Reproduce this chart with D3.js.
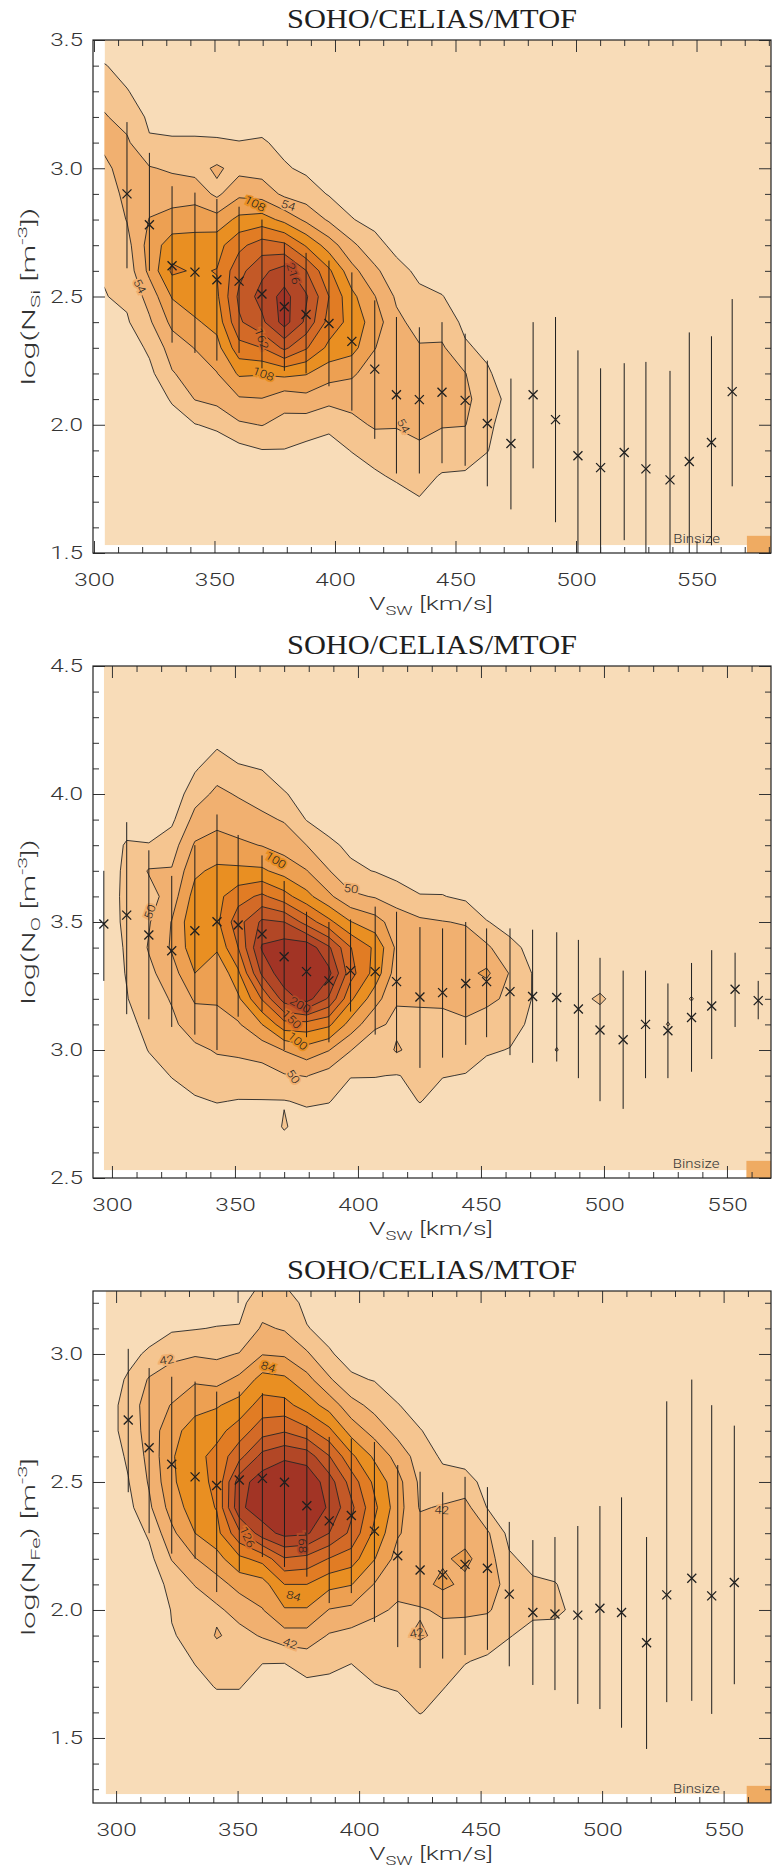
<!DOCTYPE html>
<html><head><meta charset="utf-8">
<script src="https://cdn.jsdelivr.net/npm/d3@7"></script>
<style>
html,body{margin:0;padding:0;background:#fff;}
svg{display:block;}
</style></head><body>
<svg id="chart" width="776" height="1871"></svg>
<script>
// ---------- Si panel: 2-D histogram (velocity bins x log density bins) ----------
const siCols = [304.4, 313.7, 323, 332.4, 341.9, 351, 360.2, 369.7, 379, 388, 397.5, 407, 416.5, 425.5, 435, 444.4, 454, 463.2, 473, 482.2, 491.5, 500.8, 510.2, 520, 529, 539, 547, 556.2, 564.8, 574, 583.4];
const siRows = [3.5, 3.4, 3.3, 3.2, 3.1, 3.0, 2.9, 2.8, 2.7, 2.6, 2.5, 2.4, 2.3, 2.2, 2.1, 2.0, 1.9, 1.8, 1.7, 1.6, 1.53];
// one array per velocity bin, counts from high to low density
const siGrid = [
  [15, 28, 45, 56, 58, 50, 42, 36, 32, 29, 26, 18, 8, 4, 2, 1, 0, 0, 0, 0, 0],
  [5, 20, 28, 45, 58, 62, 60, 55, 45, 38, 32, 24, 12, 6, 3, 2, 1, 0, 0, 0, 0],
  [2, 10, 18, 22, 30, 56, 70, 82, 92, 88, 64, 50, 32, 20, 10, 4, 2, 0, 0, 0, 0],
  [0, 4, 10, 18, 30, 50, 70, 90, 122, 140, 110, 88, 66, 52, 30, 15, 6, 2, 0, 0, 0],
  [0, 2, 8, 18, 30, 45, 70, 96, 120, 132, 124, 104, 82, 66, 55, 26, 10, 3, 0, 0, 0],
  [0, 1, 5, 15, 30, 58, 48, 92, 125, 136, 130, 118, 98, 80, 62, 32, 12, 3, 0, 0, 0],
  [0, 0, 4, 12, 28, 45, 75, 115, 155, 180, 195, 185, 152, 112, 78, 50, 18, 5, 0, 0, 0],
  [0, 0, 3, 15, 30, 42, 70, 120, 175, 210, 226, 210, 162, 110, 80, 55, 26, 10, 0, 0, 0],
  [0, 0, 2, 8, 20, 30, 48, 100, 168, 228, 252, 254, 195, 115, 65, 45, 26, 12, 0, 0, 0],
  [0, 0, 0, 5, 12, 22, 40, 75, 132, 190, 220, 210, 165, 110, 72, 40, 20, 8, 0, 0, 0],
  [0, 0, 0, 3, 8, 15, 25, 50, 95, 140, 162, 152, 128, 92, 62, 32, 18, 6, 0, 0, 0],
  [0, 0, 0, 0, 4, 8, 18, 28, 60, 90, 115, 125, 118, 85, 65, 45, 28, 15, 5, 0, 0],
  [0, 0, 0, 0, 0, 4, 10, 20, 35, 60, 82, 95, 82, 68, 60, 58, 35, 24, 10, 2, 0],
  [0, 0, 0, 0, 0, 2, 6, 12, 20, 35, 50, 60, 62, 60, 60, 56, 42, 30, 18, 5, 0],
  [0, 0, 0, 0, 0, 0, 3, 8, 14, 22, 32, 45, 56, 62, 65, 60, 50, 35, 25, 12, 5],
  [0, 0, 0, 0, 0, 0, 0, 4, 8, 15, 28, 40, 58, 62, 62, 56, 40, 25, 15, 5, 0],
  [0, 0, 0, 0, 0, 0, 0, 0, 4, 8, 15, 22, 30, 55, 60, 55, 38, 24, 10, 3, 0],
  [0, 0, 0, 0, 0, 0, 0, 0, 0, 3, 8, 14, 22, 30, 40, 32, 28, 15, 5, 0, 0],
  [0, 0, 0, 0, 0, 0, 0, 0, 0, 0, 3, 6, 10, 14, 18, 15, 10, 5, 2, 0, 0],
  [0, 0, 0, 0, 0, 0, 0, 0, 0, 0, 2, 4, 6, 8, 10, 8, 6, 4, 2, 0, 0],
  [0, 0, 0, 0, 0, 0, 0, 0, 0, 0, 1, 2, 4, 6, 8, 7, 6, 4, 2, 1, 0],
  [0, 0, 0, 0, 0, 0, 0, 0, 0, 0, 0, 2, 3, 5, 6, 6, 5, 4, 2, 1, 0],
  [0, 0, 0, 0, 0, 0, 0, 0, 0, 0, 0, 1, 3, 4, 5, 5, 5, 3, 2, 1, 0],
  [0, 0, 0, 0, 0, 0, 0, 0, 0, 0, 0, 1, 2, 3, 4, 5, 4, 3, 2, 1, 0],
  [0, 0, 0, 0, 0, 0, 0, 0, 0, 0, 0, 1, 2, 3, 4, 4, 4, 3, 2, 1, 0],
  [0, 0, 0, 0, 0, 0, 0, 0, 0, 0, 0, 1, 2, 2, 3, 4, 3, 3, 2, 1, 0],
  [0, 0, 0, 0, 0, 0, 0, 0, 0, 0, 0, 1, 1, 2, 3, 3, 3, 2, 2, 1, 0],
  [0, 0, 0, 0, 0, 0, 0, 0, 0, 0, 0, 1, 1, 2, 2, 3, 3, 2, 1, 1, 0],
  [0, 0, 0, 0, 0, 0, 0, 0, 0, 0, 0, 0, 1, 2, 2, 3, 2, 2, 1, 0, 0],
  [0, 0, 0, 0, 0, 0, 0, 0, 0, 0, 0, 0, 1, 1, 2, 2, 2, 1, 1, 0, 0],
  [0, 0, 0, 0, 0, 0, 0, 0, 0, 0, 0, 0, 1, 1, 1, 2, 1, 1, 1, 0, 0]
];
const siLevels = [27, 54, 81, 108, 135, 162, 189, 216, 243];
// binned means with spread
const siBarV = [313.7, 323, 332.4, 341.9, 351, 360.2, 369.7, 379, 388, 397.5, 407, 416.5, 425.5, 435, 444.4, 454, 463.2, 473, 482.2, 491.5, 500.8, 510.2, 520, 529, 539, 547, 556.2, 564.8];
const siMean = [2.90, 2.78, 2.62, 2.595, 2.565, 2.56, 2.51, 2.46, 2.43, 2.395, 2.325, 2.217, 2.117, 2.098, 2.127, 2.095, 2.005, 1.927, 2.117, 2.02, 1.879, 1.833, 1.892, 1.828, 1.785, 1.857, 1.931, 2.129];
const siHigh = [3.18, 3.06, 2.93, 2.905, 2.88, 2.85, 2.80, 2.71, 2.67, 2.64, 2.594, 2.485, 2.42, 2.38, 2.40, 2.355, 2.25, 2.18, 2.40, 2.42, 2.29, 2.22, 2.24, 2.245, 2.21, 2.36, 2.345, 2.49];
const siLow = [2.61, 2.60, 2.32, 2.28, 2.25, 2.28, 2.22, 2.21, 2.20, 2.15, 2.055, 1.945, 1.81, 1.81, 1.85, 1.84, 1.76, 1.67, 1.83, 1.62, 1.40, 1.35, 1.55, 1.40, 1.42, 1.40, 1.53, 1.76];
// contour labels: level, velocity, log density, angle
const siLabels = [[54, 380.6, 2.855, 18], [108, 366.8, 2.862, 28], [216, 382.7, 2.589, 72], [162, 369.6, 2.335, 70], [108, 370.3, 2.198, 20], [54, 319, 2.54, 62], [54, 428.4, 1.996, 60]];

// ---------- O panel ----------
const oCols = [296.7, 306, 315, 324.3, 333.7, 342.7, 351.3, 361, 370, 379.1, 388.2, 397, 407, 415.7, 425.2, 434.4, 443.8, 452.3, 461.8, 471, 480.8, 489.6, 498.4, 507.8, 516.9, 526, 535.6, 543.8, 553.3, 562.7, 571.9];
const oRows = [4.5, 4.4, 4.3, 4.2, 4.1, 4.0, 3.9, 3.8, 3.7, 3.6, 3.5, 3.4, 3.3, 3.2, 3.1, 3.0, 2.9, 2.8, 2.7, 2.6, 2.53];
const oGrid = [
  [0, 0, 0, 0, 0, 0, 3, 8, 12, 14, 15, 15, 14, 12, 8, 5, 3, 1, 0, 0, 0],
  [0, 0, 0, 0, 0, 2, 12, 28, 30, 30, 29, 27, 26, 24, 18, 10, 5, 2, 0, 0, 0],
  [0, 0, 0, 0, 0, 5, 15, 26, 52, 40, 48, 52, 44, 38, 32, 26, 15, 8, 3, 0, 0],
  [0, 0, 0, 0, 2, 8, 20, 38, 52, 62, 76, 78, 64, 52, 45, 35, 26, 15, 5, 0, 0],
  [0, 0, 0, 5, 22, 40, 58, 78, 95, 110, 120, 115, 100, 78, 62, 45, 35, 22, 10, 3, 0],
  [0, 0, 0, 20, 40, 55, 70, 82, 106, 118, 120, 105, 76, 80, 60, 52, 40, 26, 12, 3, 0],
  [0, 0, 0, 12, 28, 48, 62, 80, 105, 140, 165, 150, 120, 95, 72, 55, 38, 24, 10, 3, 0],
  [0, 0, 0, 5, 24, 40, 55, 74, 104, 155, 205, 228, 205, 152, 100, 60, 40, 24, 10, 3, 0],
  [0, 0, 0, 0, 12, 27, 48, 65, 90, 135, 200, 238, 242, 212, 140, 76, 48, 24, 27, 12, 0],
  [0, 0, 0, 0, 0, 15, 24, 50, 76, 108, 165, 242, 255, 236, 140, 90, 51, 28, 15, 5, 0],
  [0, 0, 0, 0, 0, 5, 15, 30, 51, 80, 132, 204, 232, 196, 130, 76, 40, 26, 12, 3, 0],
  [0, 0, 0, 0, 0, 2, 8, 20, 30, 55, 101, 151, 160, 130, 90, 51, 26, 15, 6, 0, 0],
  [0, 0, 0, 0, 0, 0, 4, 12, 24, 48, 85, 120, 115, 85, 55, 30, 26, 12, 4, 0, 0],
  [0, 0, 0, 0, 0, 0, 2, 8, 15, 40, 62, 70, 62, 52, 45, 53, 24, 15, 4, 0, 0],
  [0, 0, 0, 0, 0, 0, 0, 5, 15, 26, 55, 62, 55, 52, 46, 40, 30, 26, 10, 2, 0],
  [0, 0, 0, 0, 0, 0, 0, 4, 12, 26, 51, 62, 66, 56, 40, 32, 26, 15, 5, 0, 0],
  [0, 0, 0, 0, 0, 0, 0, 2, 8, 20, 48, 62, 68, 60, 46, 35, 24, 10, 3, 0, 0],
  [0, 0, 0, 0, 0, 0, 0, 0, 4, 12, 26, 55, 80, 56, 38, 28, 15, 6, 0, 0, 0],
  [0, 0, 0, 0, 0, 0, 0, 0, 2, 6, 18, 30, 48, 45, 34, 24, 12, 4, 0, 0, 0],
  [0, 0, 0, 0, 0, 0, 0, 0, 0, 3, 10, 20, 24, 24, 20, 12, 6, 2, 0, 0, 0],
  [0, 0, 0, 0, 0, 0, 0, 0, 0, 2, 6, 12, 16, 18, 16, 26, 10, 4, 0, 0, 0],
  [0, 0, 0, 0, 0, 0, 0, 0, 0, 2, 5, 10, 14, 20, 16, 12, 8, 4, 0, 0, 0],
  [0, 0, 0, 0, 0, 0, 0, 0, 0, 1, 4, 8, 14, 28, 15, 10, 6, 3, 0, 0, 0],
  [0, 0, 0, 0, 0, 0, 0, 0, 0, 1, 3, 6, 12, 16, 14, 10, 6, 3, 0, 0, 0],
  [0, 0, 0, 0, 0, 0, 0, 0, 0, 0, 3, 6, 10, 14, 12, 9, 5, 2, 0, 0, 0],
  [0, 0, 0, 0, 0, 0, 0, 0, 0, 0, 3, 6, 10, 16, 26, 9, 5, 2, 0, 0, 0],
  [0, 0, 0, 0, 0, 0, 0, 0, 0, 0, 3, 8, 14, 26, 14, 9, 5, 2, 0, 0, 0],
  [0, 0, 0, 0, 0, 0, 0, 0, 0, 0, 4, 8, 12, 15, 12, 8, 4, 2, 0, 0, 0],
  [0, 0, 0, 0, 0, 0, 0, 0, 0, 0, 4, 9, 14, 14, 10, 6, 3, 1, 0, 0, 0],
  [0, 0, 0, 0, 0, 0, 0, 0, 0, 0, 3, 7, 12, 12, 8, 5, 3, 1, 0, 0, 0],
  [0, 0, 0, 0, 0, 0, 0, 0, 0, 0, 2, 5, 8, 8, 6, 4, 2, 1, 0, 0, 0]
];
const oLevels = [25, 50, 75, 100, 125, 150, 175, 200, 225];
const oBarV = [296.7, 306, 315, 324.3, 333.7, 342.7, 351.3, 361, 370, 379.1, 388.2, 397, 407, 415.7, 425.2, 434.4, 443.8, 452.3, 461.8, 471, 480.8, 489.6, 498.4, 507.8, 516.9, 526, 535.6, 543.8, 553.3, 562.7];
const oMean = [3.492, 3.527, 3.449, 3.388, 3.466, 3.501, 3.488, 3.453, 3.364, 3.306, 3.27, 3.31, 3.306, 3.267, 3.207, 3.224, 3.26, 3.267, 3.228, 3.209, 3.205, 3.16, 3.078, 3.04, 3.1, 3.075, 3.127, 3.172, 3.237, 3.193];
const oHigh = [3.70, 3.89, 3.78, 3.68, 3.80, 3.92, 3.84, 3.76, 3.66, 3.54, 3.50, 3.51, 3.56, 3.54, 3.48, 3.475, 3.50, 3.475, 3.475, 3.47, 3.46, 3.43, 3.36, 3.31, 3.31, 3.26, 3.34, 3.39, 3.38, 3.27];
const oLow = [3.27, 3.14, 3.12, 3.09, 3.06, 3.0, 3.13, 3.15, 3.0, 3.05, 3.03, 3.15, 3.06, 2.99, 2.93, 2.97, 3.02, 3.05, 2.98, 2.95, 2.955, 2.89, 2.80, 2.77, 2.89, 2.89, 2.915, 2.965, 3.09, 3.12];
const oLabels = [[100, 366.6, 3.742, 32], [50, 397.2, 3.63, 8], [200, 376.5, 3.176, 30], [150, 373, 3.12, 45], [100, 375.5, 3.035, 40], [50, 373.7, 2.896, 55], [50, 315.4, 3.54, -70]];

// ---------- Fe panel ----------
const feCols = [295.7, 305, 313.6, 322.9, 332.5, 341.4, 350.7, 360.2, 369.3, 378.5, 387.7, 396.8, 406.3, 415.9, 425.1, 434.4, 443.6, 452.8, 461.8, 471.5, 480.6, 490, 499.1, 508, 518.3, 526.6, 536.9, 545.1, 554.4, 563.7, 573];
const feRows = [3.25, 3.2, 3.1, 3.0, 2.9, 2.8, 2.7, 2.6, 2.5, 2.4, 2.3, 2.2, 2.1, 2.0, 1.9, 1.8, 1.7, 1.6, 1.5, 1.4, 1.3, 1.28];
const feGrid = [
  [0, 0, 2, 5, 8, 10, 10, 8, 6, 5, 4, 3, 2, 1, 0, 0, 0, 0, 0, 0, 0, 0],
  [0, 0, 5, 14, 24, 30, 30, 24, 20, 15, 8, 5, 3, 2, 1, 0, 0, 0, 0, 0, 0, 0],
  [0, 2, 10, 25, 44, 52, 50, 48, 44, 38, 24, 15, 8, 4, 2, 0, 0, 0, 0, 0, 0, 0],
  [0, 3, 18, 38, 50, 64, 78, 82, 80, 72, 58, 43, 28, 22, 20, 12, 5, 0, 0, 0, 0, 0],
  [0, 5, 20, 40, 60, 78, 92, 98, 100, 95, 84, 62, 43, 30, 25, 22, 15, 5, 0, 0, 0, 0],
  [2, 10, 22, 38, 56, 82, 98, 112, 108, 106, 98, 76, 55, 38, 44, 28, 22, 12, 3, 0, 0, 0],
  [12, 16, 22, 43, 68, 92, 115, 140, 180, 185, 142, 100, 70, 50, 35, 24, 22, 12, 4, 0, 0, 0],
  [25, 32, 45, 62, 92, 114, 138, 175, 200, 200, 180, 112, 75, 62, 44, 22, 12, 6, 2, 0, 0, 0],
  [23, 30, 40, 60, 88, 112, 145, 185, 210, 215, 195, 145, 105, 82, 55, 22, 10, 4, 0, 0, 0, 0],
  [12, 16, 22, 45, 70, 95, 132, 180, 205, 212, 192, 140, 105, 82, 55, 30, 16, 6, 0, 0, 0, 0],
  [5, 10, 15, 23, 45, 75, 110, 148, 178, 185, 168, 125, 90, 62, 40, 27, 15, 5, 0, 0, 0, 0],
  [0, 3, 8, 14, 24, 50, 75, 110, 138, 152, 142, 115, 85, 58, 35, 22, 12, 4, 0, 0, 0, 0],
  [0, 0, 4, 8, 20, 35, 55, 80, 100, 110, 100, 85, 62, 45, 35, 28, 20, 8, 2, 0, 0, 0],
  [0, 0, 0, 4, 10, 22, 35, 55, 70, 72, 65, 55, 46, 40, 38, 30, 23, 12, 3, 0, 0, 0],
  [0, 0, 0, 0, 5, 12, 22, 32, 38, 40, 52, 55, 56, 40, 45, 28, 24, 22, 6, 0, 0, 0],
  [0, 0, 0, 0, 2, 6, 12, 18, 28, 44, 60, 60, 68, 45, 36, 28, 22, 14, 4, 0, 0, 0],
  [0, 0, 0, 0, 0, 3, 8, 14, 28, 50, 55, 68, 58, 46, 32, 22, 14, 6, 0, 0, 0, 0],
  [0, 0, 0, 0, 0, 0, 4, 8, 15, 20, 45, 52, 50, 44, 30, 18, 8, 3, 0, 0, 0, 0],
  [0, 0, 0, 0, 0, 0, 2, 4, 8, 12, 15, 24, 36, 33, 22, 12, 5, 2, 0, 0, 0, 0],
  [0, 0, 0, 0, 0, 0, 0, 2, 4, 6, 10, 15, 24, 25, 15, 8, 3, 1, 0, 0, 0, 0],
  [0, 0, 0, 0, 0, 0, 0, 1, 3, 5, 8, 12, 22, 26, 12, 6, 3, 1, 0, 0, 0, 0],
  [0, 0, 0, 0, 0, 0, 0, 0, 2, 4, 6, 9, 12, 15, 10, 5, 2, 1, 0, 0, 0, 0],
  [0, 0, 0, 0, 0, 0, 0, 0, 1, 3, 5, 8, 10, 12, 9, 5, 2, 1, 0, 0, 0, 0],
  [0, 0, 0, 0, 0, 0, 0, 0, 1, 2, 4, 6, 9, 10, 8, 4, 2, 1, 0, 0, 0, 0],
  [0, 0, 0, 0, 0, 0, 0, 0, 0, 2, 3, 5, 7, 9, 8, 5, 2, 0, 0, 0, 0, 0],
  [0, 0, 0, 0, 0, 0, 0, 0, 1, 2, 4, 6, 8, 8, 6, 3, 1, 0, 0, 0, 0, 0],
  [0, 0, 0, 0, 0, 0, 0, 0, 1, 2, 4, 6, 7, 7, 5, 3, 1, 0, 0, 0, 0, 0],
  [0, 0, 0, 0, 0, 0, 0, 0, 0, 2, 3, 5, 6, 6, 4, 2, 1, 0, 0, 0, 0, 0],
  [0, 0, 0, 0, 0, 0, 0, 0, 0, 1, 3, 4, 5, 5, 4, 2, 1, 0, 0, 0, 0, 0],
  [0, 0, 0, 0, 0, 0, 0, 0, 0, 1, 2, 3, 4, 4, 3, 2, 1, 0, 0, 0, 0, 0],
  [0, 0, 0, 0, 0, 0, 0, 0, 0, 1, 2, 3, 3, 3, 2, 1, 0, 0, 0, 0, 0, 0]
];
const feLevels = [21, 42, 63, 84, 105, 126, 147, 168, 189];
const feBarV = [305, 313.6, 322.9, 332.5, 341.4, 350.7, 360.2, 369.3, 378.5, 387.7, 396.8, 406.3, 415.9, 425.1, 434.4, 443.6, 452.8, 461.8, 471.5, 480.6, 490, 499.1, 508, 518.3, 526.6, 536.9, 545.1, 554.4];
const feMean = [2.742, 2.634, 2.569, 2.52, 2.486, 2.508, 2.514, 2.499, 2.407, 2.348, 2.369, 2.308, 2.212, 2.156, 2.137, 2.178, 2.163, 2.062, 1.99, 1.984, 1.98, 2.007, 1.99, 1.872, 2.059, 2.124, 2.055, 2.107];
const feHigh = [3.02, 2.945, 2.911, 2.892, 2.853, 2.853, 2.847, 2.83, 2.72, 2.676, 2.67, 2.656, 2.566, 2.54, 2.46, 2.52, 2.48, 2.344, 2.273, 2.285, 2.328, 2.406, 2.44, 2.285, 2.815, 2.9, 2.8, 2.72];
const feLow = [2.46, 2.30, 2.22, 2.20, 2.07, 2.15, 2.207, 2.168, 2.13, 2.027, 2.066, 1.953, 1.855, 1.773, 1.81, 1.824, 1.844, 1.78, 1.707, 1.687, 1.633, 1.613, 1.54, 1.457, 1.64, 1.645, 1.594, 1.71];
const feLabels = [[42, 320.8, 2.977, -8], [84, 362.6, 2.95, 18], [126, 354, 2.285, 65], [168, 376.7, 2.265, 88], [84, 373, 2.055, 15], [42, 371.6, 1.87, 20], [42, 434, 2.39, 3], [42, 423.7, 1.91, -10]];

// bin size shown in the corner of every panel
const binWidthKms = 10;
const binHeightDex = 0.067;

// ---------- drawing ----------
const svg = d3.select("#chart");
const bandColors = ["#f8dcb8", "#f5c590", "#f1b070", "#eda052", "#e98f22", "#e17c24", "#d36a27", "#c35927", "#b24726", "#a23425"];
const INK = "#262626";
const SANS = "Roboto, 'DejaVu Sans', sans-serif";
const SERIF = "'Liberation Serif', 'DejaVu Serif', serif";

// stretch glyphs horizontally to give the wide vector-font look
function widen(sel, factor, fixed) {
  sel.each(function () {
    const L = fixed || this.getComputedTextLength() * factor;
    d3.select(this).attr("textLength", L).attr("lengthAdjust", "spacingAndGlyphs");
  });
}

function drawPanel(p) {
  const b = p.box;
  const g = svg.append("g");
  const x = d3.scaleLinear().domain(p.xDomain).range([b.left, b.right]);
  const y = d3.scaleLinear().domain(p.yDomain).range([b.bottom, b.top]);

  // title
  g.append("text").attr("x", 432).attr("y", b.top - 12)
    .attr("text-anchor", "middle").attr("font-family", SERIF).attr("font-size", 27)
    .attr("textLength", 290).attr("lengthAdjust", "spacingAndGlyphs")
    .attr("fill", "#1e1e1e").text("SOHO/CELIAS/MTOF");

  const nx = p.cols.length, ny = p.rows.length;
  const colAt = d3.scaleLinear().domain(d3.range(nx)).range(p.cols);
  const rowAt = d3.scaleLinear().domain(d3.range(ny)).range(p.rows);
  const values = new Array(nx * ny);
  for (let j = 0; j < ny; j++) for (let i = 0; i < nx; i++) values[j * nx + i] = p.grid[i][j];

  const fx0 = Math.max(p.xDomain[0], d3.min(p.cols)), fx1 = Math.min(p.xDomain[1], d3.max(p.cols));
  const fy0 = Math.max(p.yDomain[0], d3.min(p.rows)), fy1 = Math.min(p.yDomain[1], d3.max(p.rows));

  const defs = svg.append("defs");
  defs.append("clipPath").attr("id", "fill-" + p.id).append("rect")
    .attr("x", x(fx0)).attr("y", y(fy1)).attr("width", x(fx1) - x(fx0)).attr("height", y(fy0) - y(fy1));
  defs.append("clipPath").attr("id", "box-" + p.id).append("rect")
    .attr("x", b.left).attr("y", b.top).attr("width", b.right - b.left).attr("height", b.bottom - b.top);

  const cg = g.append("g").attr("clip-path", `url(#fill-${p.id})`);
  cg.append("rect").attr("x", x(fx0)).attr("y", y(fy1))
    .attr("width", x(fx1) - x(fx0)).attr("height", y(fy0) - y(fy1)).attr("fill", bandColors[0]);

  const contours = d3.contours().size([nx, ny]).smooth(true).thresholds(p.levels)(values);
  const toPx = ([cx, cy]) => [x(colAt(cx - 0.5)), y(rowAt(cy - 0.5))];
  const pathOf = mp => mp.coordinates.map(poly => poly.map(ring =>
    "M" + ring.map(pt => toPx(pt).map(v => v.toFixed(2)).join(",")).join("L") + "Z").join("")).join("");

  cg.selectAll("path.band").data(contours).join("path")
    .attr("class", "band")
    .attr("d", pathOf)
    .attr("fill", (d, i) => bandColors[i + 1])
    .attr("fill-rule", "evenodd")
    .attr("stroke", INK).attr("stroke-width", 0.9).attr("stroke-linejoin", "round");

  // contour labels
  cg.selectAll("text.clab").data(p.labels).join("text")
    .attr("class", "clab")
    .attr("transform", d => `translate(${x(d[1])},${y(d[2])}) rotate(${d[3]})`)
    .attr("text-anchor", "middle").attr("dy", "0.35em")
    .attr("font-family", SANS).attr("font-size", 11).attr("font-weight", 300)
    .attr("fill", "#222")
    .attr("stroke", d => bandColors[p.levels.indexOf(d[0]) + 1]).attr("stroke-width", 3.5)
    .attr("paint-order", "stroke")
    .text(d => d[0])
    .call(widen, 1.2);

  // error bars and means
  const eg = g.append("g").attr("clip-path", `url(#box-${p.id})`);
  const idx = d3.range(p.barV.length);
  eg.selectAll("line.bar").data(idx).join("line")
    .attr("x1", i => x(p.barV[i])).attr("x2", i => x(p.barV[i]))
    .attr("y1", i => y(p.low[i])).attr("y2", i => y(p.high[i]))
    .attr("stroke", "#1f1f1f").attr("stroke-width", 1);
  eg.selectAll("path.mean").data(idx).join("path")
    .attr("transform", i => `translate(${x(p.barV[i])},${y(p.mean[i])})`)
    .attr("d", "M-4.5,-4.5L4.5,4.5M-4.5,4.5L4.5,-4.5")
    .attr("stroke", "#1f1f1f").attr("stroke-width", 1.3).attr("fill", "none");

  // bin size marker
  const bx0 = x(p.xDomain[1] - binWidthKms), by0 = y(p.yDomain[0] + binHeightDex);
  g.append("rect").attr("x", bx0).attr("y", by0)
    .attr("width", b.right - bx0).attr("height", b.bottom - by0).attr("fill", "#efab62");
  g.append("text").attr("x", bx0 - 27).attr("y", b.bottom - 10)
    .attr("text-anchor", "end").attr("font-family", SANS).attr("font-size", 13).attr("font-weight", 300)
    .attr("fill", "#333").text("Binsize").call(widen, 1.15);

  // axes: ticks point inward on every side
  const xMaj = d3.range(300, 551, 50);
  const xMin = d3.range(Math.ceil(p.xDomain[0] / 10) * 10, p.xDomain[1], 10).filter(v => v % 50 !== 0);
  const yMaj = p.yMajor;
  const yMin = d3.range(Math.ceil(p.yDomain[0] * 10 - 1e-6), Math.floor(p.yDomain[1] * 10 + 1e-6) + 1)
    .map(v => v / 10).filter(v => Math.abs(v * 2 - Math.round(v * 2)) > 1e-6);

  const styleAxis = sel => {
    sel.select(".domain").remove();
    sel.selectAll("line").attr("stroke", "#333").attr("stroke-width", 1);
    sel.selectAll("text").attr("font-family", SANS).attr("font-size", 18).attr("font-weight", 300)
      .attr("fill", "#333");
  };
  const ax = (fn, scale, vals, size, fmt, tr) => g.append("g").attr("transform", tr)
    .call(fn(scale).tickValues(vals).tickSize(size).tickSizeOuter(0).tickFormat(fmt)).call(styleAxis);

  const bottomMaj = ax(d3.axisBottom, x, xMaj, -12, d3.format("d"), `translate(0,${b.bottom})`);
  bottomMaj.selectAll("text").attr("y", 33).attr("dy", null).call(widen, 1.35);
  ax(d3.axisBottom, x, xMin, -6, () => "", `translate(0,${b.bottom})`);
  ax(d3.axisTop, x, xMaj, -12, () => "", `translate(0,${b.top})`);
  ax(d3.axisTop, x, xMin, -6, () => "", `translate(0,${b.top})`);
  const leftMaj = ax(d3.axisLeft, y, yMaj, -12, d3.format(".1f"), `translate(${b.left},0)`);
  leftMaj.selectAll("text").attr("x", -10).call(widen, 1.35);
  ax(d3.axisLeft, y, yMin, -6, () => "", `translate(${b.left},0)`);
  ax(d3.axisRight, y, yMaj, -12, () => "", `translate(${b.right},0)`);
  ax(d3.axisRight, y, yMin, -6, () => "", `translate(${b.right},0)`);

  g.append("rect").attr("x", b.left).attr("y", b.top)
    .attr("width", b.right - b.left).attr("height", b.bottom - b.top)
    .attr("fill", "none").attr("stroke", "#222").attr("stroke-width", 1.2);

  // axis titles
  const xt = g.append("text").attr("x", 431).attr("y", b.bottom + 57)
    .attr("text-anchor", "middle").attr("font-family", SANS).attr("font-size", 19).attr("font-weight", 300)
    .attr("fill", "#333");
  xt.append("tspan").text("V");
  xt.append("tspan").attr("dy", 5).attr("font-size", 13).text("SW");
  xt.append("tspan").attr("dy", -5).text(" [km/s]");
  xt.call(widen, 1, 124);

  const yt = g.append("text")
    .attr("transform", `translate(35,${(b.top + b.bottom) / 2}) rotate(-90)`)
    .attr("text-anchor", "middle").attr("font-family", SANS).attr("font-size", 19).attr("font-weight", 300)
    .attr("fill", "#333");
  yt.append("tspan").text("log(N");
  yt.append("tspan").attr("dy", 5).attr("font-size", 13).text(p.species);
  yt.append("tspan").attr("dy", -5).text(p.closeAfterSpecies ? ") [m" : " [m");
  yt.append("tspan").attr("dy", -8).attr("font-size", 13).text("-3");
  yt.append("tspan").attr("dy", 8).text(p.closeAfterSpecies ? "]" : "])");
  yt.call(widen, 1, p.yTitleLength);
}

drawPanel({
  id: "si", box: {left: 93, right: 771, top: 40, bottom: 553},
  xDomain: [299.6, 580.9], yDomain: [1.5, 3.5], yMajor: [1.5, 2.0, 2.5, 3.0, 3.5],
  cols: siCols, rows: siRows, grid: siGrid, levels: siLevels, labels: siLabels,
  barV: siBarV, mean: siMean, low: siLow, high: siHigh, species: "Si", closeAfterSpecies: false, yTitleLength: 178
});
drawPanel({
  id: "o", box: {left: 93, right: 771, top: 666, bottom: 1178},
  xDomain: [292.3, 567.9], yDomain: [2.5, 4.5], yMajor: [2.5, 3.0, 3.5, 4.0, 4.5],
  cols: oCols, rows: oRows, grid: oGrid, levels: oLevels, labels: oLabels,
  barV: oBarV, mean: oMean, low: oLow, high: oHigh, species: "O", closeAfterSpecies: false, yTitleLength: 165
});
drawPanel({
  id: "fe", box: {left: 93, right: 771, top: 1291, bottom: 1803},
  xDomain: [290.5, 569.5], yDomain: [1.246, 3.246], yMajor: [1.5, 2.0, 2.5, 3.0],
  cols: feCols, rows: feRows, grid: feGrid, levels: feLevels, labels: feLabels,
  barV: feBarV, mean: feMean, low: feLow, high: feHigh, species: "Fe", closeAfterSpecies: true, yTitleLength: 178
});
</script>
</body></html>
